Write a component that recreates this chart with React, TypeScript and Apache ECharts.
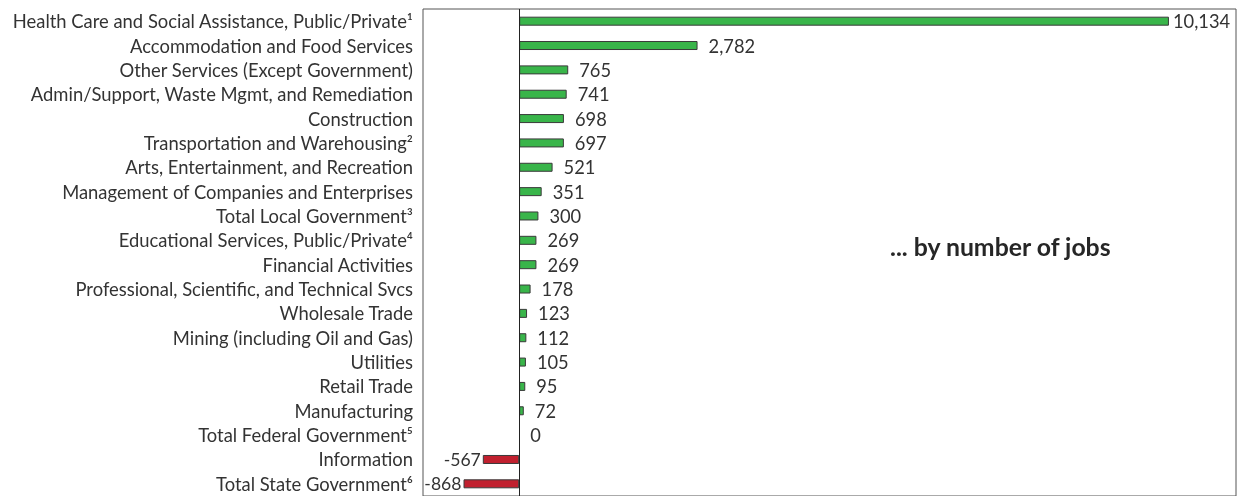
import React, { useEffect, useRef } from "react";
import * as echarts from "echarts";

const categories = [
  "Health Care and Social Assistance, Public/Private¹",
  "Accommodation and Food Services",
  "Other Services (Except Government)",
  "Admin/Support, Waste Mgmt, and Remediation",
  "Construction",
  "Transportation and Warehousing²",
  "Arts, Entertainment, and Recreation",
  "Management of Companies and Enterprises",
  "Total Local Government³",
  "Educational Services, Public/Private⁴",
  "Financial Activities",
  "Professional, Scientific, and Technical Svcs",
  "Wholesale Trade",
  "Mining (including Oil and Gas)",
  "Utilities",
  "Retail Trade",
  "Manufacturing",
  "Total Federal Government⁵",
  "Information",
  "Total State Government⁶",
];

const values = [10134, 2782, 765, 741, 698, 697, 521, 351, 300, 269, 269, 178, 123, 112, 105, 95, 72, 0, -567, -868];

const annotation = "... by number of jobs";

const FONT = "Lato";

export default function App() {
  const ref = useRef<HTMLDivElement>(null);
  useEffect(() => {
    if (!ref.current) return;
    const chart = echarts.init(ref.current, undefined, { renderer: "svg" });
    const data = values.map((v, i) => {
      const neg = v < 0;
      return {
        value: v,
        itemStyle: {
          color: neg ? "#c1202f" : "#39b54a",
          borderColor: "#3a3a3a",
          borderWidth: v === 0 ? 0 : 1,
        },
        label: {
          show: true,
          position: neg ? "left" : "right",
          distance: neg ? 2 : i === 0 ? 4 : 11,
          fontSize: neg ? 17.6 : 18.3,
        },
      };
    });
    chart.setOption({
      animation: false,
      grid: { left: 423, top: 9, right: 2, height: 488, show: true, borderColor: "#555", borderWidth: 1, backgroundColor: "transparent" },
      xAxis: {
        type: "value",
        min: -1500,
        max: 11180,
        axisLabel: { show: false },
        axisLine: { show: false },
        axisTick: { show: false },
        splitLine: { show: false },
      },
      yAxis: {
        type: "category",
        data: categories,
        inverse: true,
        axisLine: { show: false },
        axisTick: { show: false },
        axisLabel: { fontFamily: FONT, fontSize: 18.4, color: "#333", margin: 10 },
      },
      series: [
        {
          type: "bar",
          data,
          barWidth: 9,
          label: {
            fontFamily: FONT,
            fontSize: 18.3,
            color: "#333",
            formatter: (p: any) => Number(p.value).toLocaleString("en-US"),
          },
          markLine: {
            silent: true,
            symbol: "none",
            label: { show: false },
            lineStyle: { color: "#222", width: 1, type: "solid" },
            data: [{ xAxis: 0 }],
          },
        },
      ],
      graphic: [
        {
          type: "text",
          left: 890,
          top: 234,
          style: { text: annotation, fontFamily: FONT, fontSize: 24.8, fontWeight: "bold", fill: "#262626" },
        },
      ],
    });
    return () => chart.dispose();
  }, []);
  return <div ref={ref} style={{ position: "fixed", left: 0, top: 0, width: 1238, height: 496 }} />;
}
